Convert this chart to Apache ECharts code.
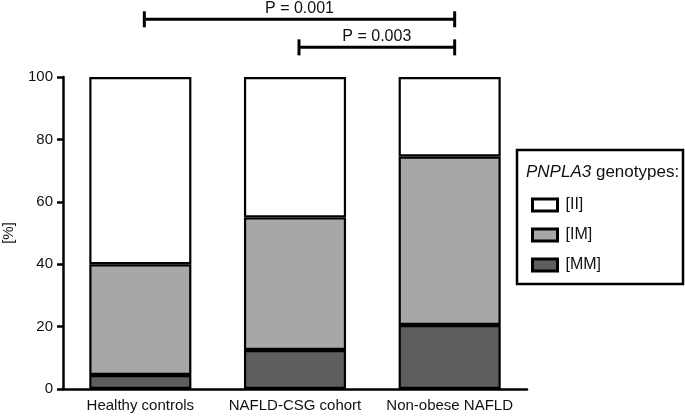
<!DOCTYPE html>
<html>
<head>
<meta charset="utf-8">
<script src="https://cdn.jsdelivr.net/npm/echarts@6/dist/echarts.min.js"></script>
<style>
  html, body { margin: 0; padding: 0; background: #fff; }
  #chart { width: 685px; height: 418px; }
</style>
</head>
<body>
<div id="chart"></div>
<script>
// data
const groups = ['Healthy controls', 'NAFLD-CSG cohort', 'Non-obese NAFLD']
const genoMM = [4.5, 12.5, 20.5]
const genoIM = [35.5, 42.5, 54]
const genoII = [60, 45, 25.5]
const yTicks = [0, 20, 40, 60, 80, 100]
// significance brackets: [from group, to group, height in % units, label]
const brackets = [
  [0, 2, 118.5, 'P = 0.001'],
  [1, 2, 109.5, 'P = 0.003']
]

const font = 'Liberation Sans, Arial, sans-serif'
const ink = '#111'
const barBorder = { borderColor: '#000', borderWidth: 2.2 }

let chart = echarts.init(document.getElementById('chart'))

let option = {
  animation: false,
  textStyle: { fontFamily: font },
  grid: { left: 63, right: 158, top: 77, bottom: 29, containLabel: false, outerBoundsMode: 'none' },
  legend: {
    orient: 'vertical',
    left: 526,
    top: 192,
    icon: 'rect',
    itemWidth: 25,
    itemHeight: 12,
    itemGap: 14,
    textStyle: { fontSize: 16, color: ink, fontFamily: font, padding: [0, 0, 0, 3] },
    itemStyle: { borderColor: '#000', borderWidth: 3 },
    data: ['[II]', '[IM]', '[MM]']
  },
  xAxis: {
    type: 'category',
    data: groups,
    axisLine: { lineStyle: { color: '#000', width: 2.5 } },
    axisTick: { alignWithLabel: true, length: 6, lineStyle: { color: '#000', width: 2.5 } },
    axisLabel: { interval: 0, fontSize: 15, color: ink, margin: 9 }
  },
  yAxis: {
    type: 'value',
    min: 0,
    max: 100,
    interval: 20,
    name: '[%]',
    nameLocation: 'middle',
    nameRotate: 90,
    nameGap: 47,
    nameTextStyle: { fontSize: 15, color: ink },
    splitLine: { show: false },
    axisLine: { show: true, lineStyle: { color: '#000', width: 2.5 } },
    axisTick: { show: true, length: 6, lineStyle: { color: '#000', width: 2.5 } },
    axisLabel: { fontSize: 15, color: ink, margin: 10, formatter: v => yTicks.includes(v) ? v : '' }
  },
  // lower segments drawn on top so each seam is one solid line
  series: [
    { name: '[MM]', type: 'bar', stack: 'g', barWidth: '66%', data: genoMM, z: 4,
      itemStyle: Object.assign({ color: '#5e5e5e' }, barBorder) },
    { name: '[IM]', type: 'bar', stack: 'g', data: genoIM, z: 3,
      itemStyle: Object.assign({ color: '#a7a7a7' }, barBorder) },
    { name: '[II]', type: 'bar', stack: 'g', data: genoII, z: 2,
      itemStyle: Object.assign({ color: '#ffffff' }, barBorder) }
  ]
}
chart.setOption(option)

// brackets and legend box drawn after the axes exist
let gfx = []
brackets.forEach(b => {
  let p1 = chart.convertToPixel({ gridIndex: 0 }, [b[0], b[2]])
  let p2 = chart.convertToPixel({ gridIndex: 0 }, [b[1], b[2]])
  let x1 = p1[0] + 4, x2 = p2[0] + 5, y = p1[1]
  let st = { stroke: '#000', lineWidth: 3 }
  gfx.push({ type: 'line', shape: { x1: x1, y1: y, x2: x2, y2: y }, style: st })
  gfx.push({ type: 'line', shape: { x1: x1, y1: y - 8, x2: x1, y2: y + 8 }, style: st })
  gfx.push({ type: 'line', shape: { x1: x2, y1: y - 8, x2: x2, y2: y + 8 }, style: st })
  gfx.push({ type: 'text', x: (x1 + x2) / 2, y: y - 3,
    style: { text: b[3], fontSize: 16, fontFamily: font, fill: ink, align: 'center', verticalAlign: 'bottom' } })
})
gfx.push({ type: 'rect', shape: { x: 517, y: 150, width: 166, height: 134 },
  style: { fill: 'none', stroke: '#000', lineWidth: 2.5 } })
gfx.push({ type: 'text', x: 526, y: 172,
  style: {
    text: '{i|PNPLA3} genotypes:',
    verticalAlign: 'middle',
    fontSize: 17, fontFamily: font, fill: ink,
    rich: { i: { fontStyle: 'italic', fontSize: 17, fontFamily: font, fill: ink } }
  } })
chart.setOption({ graphic: gfx })
</script>
</body>
</html>
